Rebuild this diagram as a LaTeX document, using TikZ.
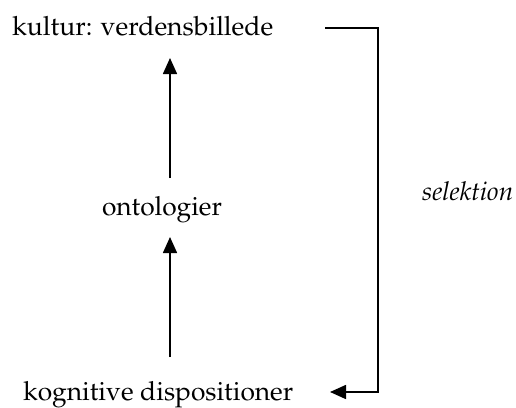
\documentclass[tikz,border=0pt]{standalone}
\usepackage[T1]{fontenc}
\usepackage{mathpazo}
\usetikzlibrary{arrows.meta}
\begin{document}
\begin{tikzpicture}[x=1pt,y=-1pt,
  lbl/.style={inner sep=0pt},
  conn/.style={line width=1.6pt, -{Triangle[length=16pt,width=14pt]}}]
\useasboundingbox (0,0) rectangle (516,407);
\node[lbl, anchor=base west] (kul) at (12,35) {\resizebox{261pt}{!}{kultur: verdensbillede}};
\node[lbl, anchor=base] (ont) at (162,215) {\resizebox{120pt}{!}{ontologier}};
\node[lbl, anchor=base west] (kog) at (23,400) {\resizebox{270pt}{!}{kognitive dispositioner}};
\node[lbl, anchor=base west] (sel) at (422,200) {\resizebox{91pt}{!}{\itshape selektion}};
\coordinate (a1s) at (170,178);
\coordinate (a1e) at (170,58);
\coordinate (a2s) at (170,357);
\coordinate (a2e) at (170,237);
\draw[conn] (a1s) -- (a1e);
\draw[conn] (a2s) -- (a2e);
\coordinate (b1) at (325,28);
\coordinate (b2) at (378,28);
\coordinate (b3) at (378,392);
\coordinate (b4) at (330,392);
\draw[conn] (b1) -- (b2) -- (b3) -- (b4);
\end{tikzpicture}
\end{document}
